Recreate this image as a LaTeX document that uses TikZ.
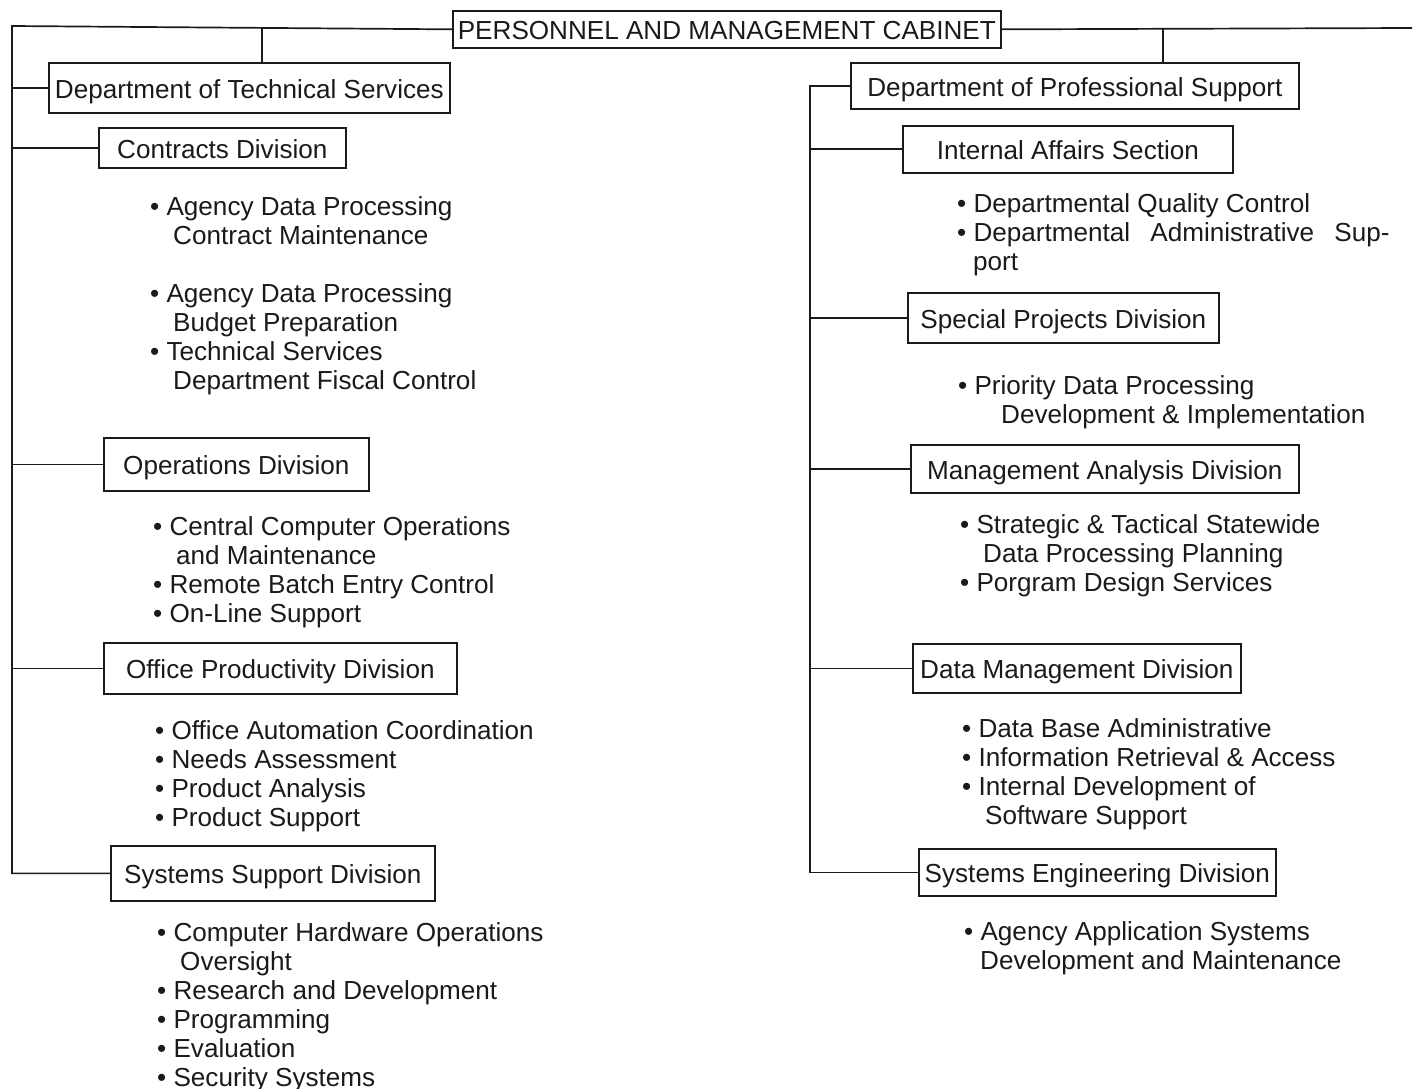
\documentclass[tikz,border=0pt]{standalone}
\usepackage{fontspec}
\setmainfont{Liberation Sans}
\definecolor{ink}{HTML}{1A1A1A}
\newcommand{\orgfont}{\fontsize{26.1}{29}\selectfont}
\newcommand{\orgitem}{\textbullet\ }
\newcommand{\orgcont}[1][23pt]{\hspace*{#1}}
\tikzset{orgbox/.style={draw=ink,text=ink,line width=1.7pt,anchor=north west,inner sep=0pt,
 font=\orgfont,text height=21pt,text depth=0pt},
 orgline/.style={draw=ink,line width=1.7pt,line join=miter},
 itemlist/.style={anchor=base west,align=left,inner sep=0pt,text=ink,font=\orgfont}}

\begin{document}
\begin{tikzpicture}[x=1pt,y=-1pt]
\useasboundingbox (0,0) rectangle (1416,1089);
\node[orgbox,minimum width=548pt,minimum height=37pt] (cabinet) at (452,10) {PERSONNEL AND MANAGEMENT CABINET};
\node[orgbox,minimum width=401pt,minimum height=50pt] (tech) at (48,62) {Department of Technical Services};
\node[orgbox,minimum width=247pt,minimum height=40pt] (contracts) at (98,127) {Contracts Division};
\node[orgbox,minimum width=265pt,minimum height=53pt] (ops) at (103,437) {Operations Division};
\node[orgbox,minimum width=353pt,minimum height=51pt] (office) at (103,642) {Office Productivity Division};
\node[orgbox,minimum width=324pt,minimum height=55pt] (syssup) at (110,845) {Systems Support Division};
\node[orgbox,minimum width=448pt,minimum height=46pt] (prof) at (850,62) {Department of Professional Support};
\node[orgbox,minimum width=330pt,minimum height=47pt] (internal) at (902,125) {Internal Affairs Section};
\node[orgbox,minimum width=311pt,minimum height=50pt] (special) at (907,292) {Special Projects Division};
\node[orgbox,minimum width=388pt,minimum height=48pt] (mgmt) at (910,444) {Management Analysis Division};
\node[orgbox,minimum width=328pt,minimum height=49pt] (datamgmt) at (912,643) {Data Management Division};
\node[orgbox,minimum width=357pt,minimum height=47pt] (syseng) at (918,848) {Systems Engineering Division};

\node[itemlist] (contractsitems) at (150,389) {\orgitem Agency Data Processing\\\orgcont Contract Maintenance\\[29pt]
 \orgitem Agency Data Processing\\\orgcont Budget Preparation\\\orgitem Technical Services\\\orgcont Department Fiscal Control};
\node[itemlist] (opsitems) at (153,622) {\orgitem Central Computer Operations\\\orgcont and Maintenance\\
 \orgitem Remote Batch Entry Control\\\orgitem On-Line Support};
\node[itemlist] (officeitems) at (155,826) {\orgitem Office Automation Coordination\\\orgitem Needs Assessment\\
 \orgitem Product Analysis\\\orgitem Product Support};
\node[itemlist] (syssupitems) at (157,1086) {\orgitem Computer Hardware Operations\\\orgcont Oversight\\
 \orgitem Research and Development\\\orgitem Programming\\\orgitem Evaluation\\\orgitem Security Systems};
\node[itemlist] (internalitems) at (957,270) {\orgitem Departmental Quality Control\\
 \orgitem\makebox[416pt][s]{Departmental Administrative Sup-}\\\orgcont[16pt]port};
\node[itemlist] (specialitems) at (958,423) {\orgitem Priority Data Processing\\\orgcont[43pt]Development \& Implementation};
\node[itemlist] (mgmtitems) at (960,591) {\orgitem Strategic \& Tactical Statewide\\\orgcont Data Processing Planning\\
 \orgitem Porgram Design Services};
\node[itemlist] (datamgmtitems) at (962,824) {\orgitem Data Base Administrative\\\orgitem Information Retrieval \& Access\\
 \orgitem Internal Development of\\\orgcont Software Support};
\node[itemlist] (syssengitems) at (964,969) {\orgitem Agency Application Systems\\\orgcont[16pt]Development and Maintenance};

\coordinate (topleft) at (12,26);\coordinate (topright) at (1412,28);
\coordinate (techtap) at (262,27);\coordinate (proftap) at (1163,28);\coordinate (rtrunk) at (810,86);
\draw[orgline] (cabinet.west)--(topleft)--(topleft |- syssup.west)--(syssup.west);
\draw[orgline] (cabinet.east)--(topright);
\draw[orgline] (techtap)--(techtap |- tech.north);\draw[orgline] (proftap)--(proftap |- prof.north);
\foreach \b in {tech,contracts,ops,office} \draw[orgline] (topleft |- \b.west)--(\b.west);
\draw[orgline] (prof.west)--(rtrunk |- prof.west)--(rtrunk |- syseng.west)--(syseng.west);
\foreach \b in {internal,special,mgmt,datamgmt} \draw[orgline] (rtrunk |- \b.west)--(\b.west);
\end{tikzpicture}
\end{document}
